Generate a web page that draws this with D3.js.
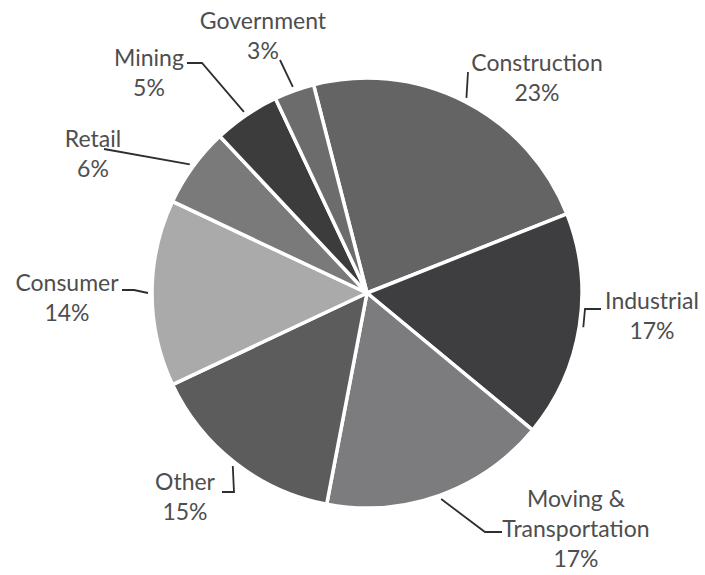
<!DOCTYPE html>
<html>
<head>
<meta charset="utf-8">
<script src="https://cdn.jsdelivr.net/npm/d3@7"></script>
<style>
  html, body { margin: 0; padding: 0; background: #fff; }
  svg { display: block; }
  .lbl { font-family: Lato, "Open Sans", sans-serif; font-size: 23px; fill: #4e4e4e; }
</style>
</head>
<body>
<svg id="chart" width="705" height="575"></svg>
<script>
// Industry share of the total, clockwise from the top
const categories = ["Construction", "Industrial", "Moving & Transportation", "Other",
                    "Consumer", "Retail", "Mining", "Government"];
const shares = [23, 17, 17, 15, 14, 6, 5, 3];
const labelLines = [["Construction"], ["Industrial"], ["Moving &", "Transportation"], ["Other"],
                    ["Consumer"], ["Retail"], ["Mining"], ["Government"]];

const fills = ["#646464", "#3e3e40", "#7c7c7e", "#5c5c5c", "#aaaaaa", "#7a7a7a", "#3c3c3c", "#6c6c6c"];

// Label placement: text centre x, first baseline y, and leader bend points (label side)
const labelLayout = {
  "Construction":            { x: 537, y: 71,  bend: [[468, 72]] },
  "Industrial":              { x: 652, y: 309, bend: [[585, 309], [601, 309]] },
  "Moving & Transportation": { x: 576, y: 507, bend: [[485, 532], [502, 532]] },
  "Other":                   { x: 185, y: 490, bend: [[234, 492], [222, 492]] },
  "Consumer":                { x: 67,  y: 291, bend: [[134, 290], [122, 290]] },
  "Retail":                  { x: 93,  y: 147, bend: [[104, 149]] },
  "Mining":                  { x: 149, y: 66,  bend: [[202, 63], [187, 63]] },
  "Government":              { x: 263, y: 29,  bend: [[280, 60]] }
};

const cx = 367, cy = 293, radius = 215;
const startDeg = -14.4;
const lineGap = 30;

const data = categories.map((c, i) => ({ name: c, value: shares[i], lines: labelLines[i], fill: fills[i] }));

const svg = d3.select("#chart");
const g = svg.append("g").attr("transform", `translate(${cx},${cy})`);

const pie = d3.pie()
  .sort(null)
  .value(d => d.value)
  .startAngle(startDeg * Math.PI / 180)
  .endAngle(startDeg * Math.PI / 180 + 2 * Math.PI);

const arc = d3.arc().innerRadius(0).outerRadius(radius);
const arcs = pie(data);

g.selectAll("path.slice")
  .data(arcs)
  .join("path")
  .attr("class", "slice")
  .attr("d", arc)
  .attr("fill", d => d.data.fill)
  .attr("stroke", "#ffffff")
  .attr("stroke-width", 3.5)
  .attr("stroke-linejoin", "round");

// Leader lines from the slice rim to each label
const line = d3.line();
svg.append("g").selectAll("path.leader")
  .data(arcs)
  .join("path")
  .attr("class", "leader")
  .attr("d", d => {
    const mid = (d.startAngle + d.endAngle) / 2;
    const r = radius + 4;
    const rim = [cx + r * Math.sin(mid), cy - r * Math.cos(mid)];
    return line([rim, ...labelLayout[d.data.name].bend]);
  })
  .attr("fill", "none")
  .attr("stroke", "#2e2e2e")
  .attr("stroke-width", 1.8);

// Category name and percentage
const labels = svg.append("g").selectAll("text")
  .data(arcs)
  .join("text")
  .attr("class", "lbl")
  .attr("text-anchor", "middle")
  .attr("x", d => labelLayout[d.data.name].x)
  .attr("y", d => labelLayout[d.data.name].y);

labels.each(function(d) {
  const t = d3.select(this);
  const L = labelLayout[d.data.name];
  const rows = [...d.data.lines, d.data.value + "%"];
  rows.forEach((txt, i) => {
    t.append("tspan").attr("x", L.x).attr("y", L.y + i * lineGap).text(txt);
  });
});
</script>
</body>
</html>
